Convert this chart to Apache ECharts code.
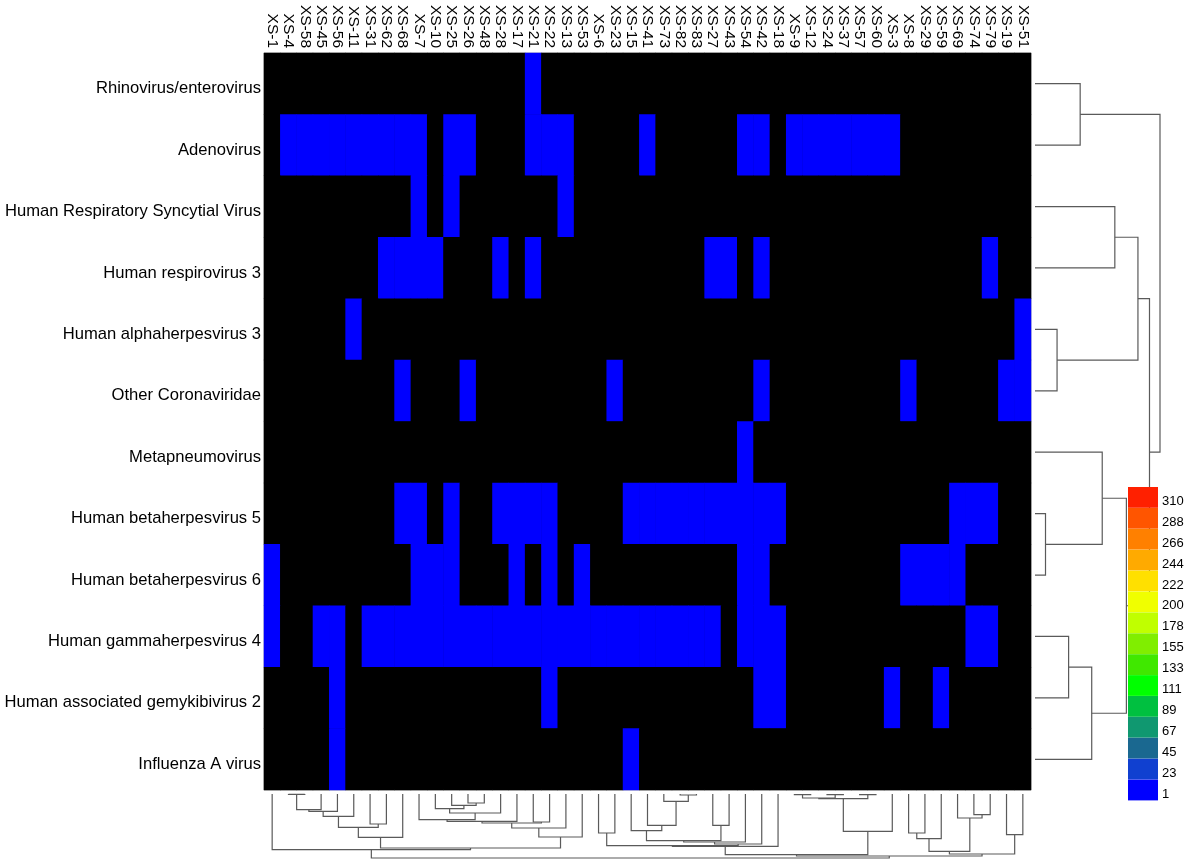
<!DOCTYPE html>
<html>
<head>
<meta charset="utf-8">
<title>Virus heatmap</title>
<script src="https://cdn.jsdelivr.net/npm/echarts@6/dist/echarts.min.js"></script>
<style>
	html, body { margin: 0; padding: 0; background: #fff; }
	#heatmap { width: 1187px; height: 863px; }
</style>
</head>
<body>
<div id="heatmap"></div>
<script>
//样本（列）
var samples = ['XS-1','XS-4','XS-58','XS-45','XS-56','XS-11','XS-31','XS-62','XS-68','XS-7',
	'XS-10','XS-25','XS-26','XS-48','XS-28','XS-17','XS-21','XS-22','XS-13','XS-53',
	'XS-6','XS-23','XS-15','XS-41','XS-73','XS-82','XS-83','XS-27','XS-43','XS-54',
	'XS-42','XS-18','XS-9','XS-12','XS-24','XS-37','XS-57','XS-60','XS-3','XS-8',
	'XS-29','XS-59','XS-69','XS-74','XS-79','XS-19','XS-51'];

//病毒（行）
var viruses = ['Rhinovirus/enterovirus','Adenovirus','Human Respiratory Syncytial Virus',
	'Human respirovirus 3','Human alphaherpesvirus 3','Other Coronaviridae','Metapneumovirus',
	'Human betaherpesvirus 5','Human betaherpesvirus 6','Human gammaherpesvirus 4',
	'Human associated gemykibivirus 2','Influenza A virus'];

//每行的读数（0 = 未检出）
var counts = [
	[0,0,0,0,0,0,0,0,0,0, 0,0,0,0,0,0,1,0,0,0, 0,0,0,0,0,0,0,0,0,0, 0,0,0,0,0,0,0,0,0,0, 0,0,0,0,0,0,0],
	[0,1,1,1,1,1,1,1,1,1, 0,1,1,0,0,0,1,1,1,0, 0,0,0,1,0,0,0,0,0,1, 1,0,1,1,1,1,1,1,1,0, 0,0,0,0,0,0,0],
	[0,0,0,0,0,0,0,0,0,1, 0,1,0,0,0,0,0,0,1,0, 0,0,0,0,0,0,0,0,0,0, 0,0,0,0,0,0,0,0,0,0, 0,0,0,0,0,0,0],
	[0,0,0,0,0,0,0,1,1,1, 1,0,0,0,1,0,1,0,0,0, 0,0,0,0,0,0,0,1,1,0, 1,0,0,0,0,0,0,0,0,0, 0,0,0,0,1,0,0],
	[0,0,0,0,0,1,0,0,0,0, 0,0,0,0,0,0,0,0,0,0, 0,0,0,0,0,0,0,0,0,0, 0,0,0,0,0,0,0,0,0,0, 0,0,0,0,0,0,1],
	[0,0,0,0,0,0,0,0,1,0, 0,0,1,0,0,0,0,0,0,0, 0,1,0,0,0,0,0,0,0,0, 1,0,0,0,0,0,0,0,0,1, 0,0,0,0,0,1,1],
	[0,0,0,0,0,0,0,0,0,0, 0,0,0,0,0,0,0,0,0,0, 0,0,0,0,0,0,0,0,0,1, 0,0,0,0,0,0,0,0,0,0, 0,0,0,0,0,0,0],
	[0,0,0,0,0,0,0,0,1,1, 0,1,0,0,1,1,1,1,0,0, 0,0,1,1,1,1,1,1,1,1, 1,1,0,0,0,0,0,0,0,0, 0,0,1,1,1,0,0],
	[1,0,0,0,0,0,0,0,0,1, 1,1,0,0,0,1,0,1,0,1, 0,0,0,0,0,0,0,0,0,1, 1,0,0,0,0,0,0,0,0,1, 1,1,1,0,0,0,0],
	[1,0,0,1,1,0,1,1,1,1, 1,1,1,1,1,1,1,1,1,1, 1,1,1,1,1,1,1,1,0,1, 1,1,0,0,0,0,0,0,0,0, 0,0,0,1,1,0,0],
	[0,0,0,0,1,0,0,0,0,0, 0,0,0,0,0,0,0,1,0,0, 0,0,0,0,0,0,0,0,0,0, 1,1,0,0,0,0,0,0,1,0, 0,1,0,0,0,0,0],
	[0,0,0,0,1,0,0,0,0,0, 0,0,0,0,0,0,0,0,0,0, 0,0,1,0,0,0,0,0,0,0, 0,0,0,0,0,0,0,0,0,0, 0,0,0,0,0,0,0]
];

//图例分段
var legendLabels = [1, 23, 45, 67, 89, 111, 133, 155, 178, 200, 222, 244, 266, 288, 310];
var legendColors = ['#0000ff','#1040d0','#1a6890','#109870','#00c040','#00ff00','#40e800','#80ee00',
	'#c0ff00','#f0ff00','#ffe000','#ffaa00','#ff8000','#ff5500','#ff2000'];

//行聚类树 [左, 右, 高度]
var rowTree = [[0, 1, 43], [[[2, 3, 76], [4, 5, 21], 98], [[6, [7, 8, 10], 64], [[9, 10, 32], 11, 54], 87], 109], 119];

//列聚类树 [左, 右, 高度]
var colTree = [
	[0,
		[
			[[[[[[1, 2, 0.3], 3, 15.7], 4, 17.3], 5, 22.3], [6, 7, 30], 33.3], 8, 43.3],
			[[[[[9, [[10, [11, [12, 13, 9], 11.3], 14.7], 14, 19], 25.7], 15, 27.3], [16, 17, 28], 29], 18, 34], 19, 43],
			54
		],
		55.7
	],
	[
		[
			[[[20, 21, 39], [[[[22, [23, [24, [25, 26, 1], 7.3], 31.3], 36.7], [27, 28, 31.3], 46.7], 29, 48], 30, 50], 51.7], 31, 52.3],
			[[[[32, 33, 0.7], [34, 35, 0.7], 4], [36, 37, 0.7], 4.7], 38, 37.3],
			60.7
		],
		[[[[39, 40, 39], 41, 44.7], [42, [43, 44, 20.7], 24], 57.3], [45, 46, 40.7], 60],
		62
	],
	64
];

//把树展开成线段 [位置a, 高度a, 高度, 位置b, 高度b]
function flattenTree(node, out) {
	if (typeof node === 'number') return { pos: node, h: 0 };
	var a = flattenTree(node[0], out);
	var b = flattenTree(node[1], out);
	out.push([a.pos, a.h, node[2], b.pos, b.h]);
	return { pos: (a.pos + b.pos) / 2, h: node[2] };
}

function loadHeatmap() {
	var chart = echarts.init(document.getElementById('heatmap'));
	var font = "'Liberation Sans', Arial, sans-serif";

	var cells = [];
	for (var r = 0; r < viruses.length; r++) {
		for (var c = 0; c < samples.length; c++) {
			cells.push([c, r, counts[r][c]]);
		}
	}

	var rowSegs = [], colSegs = [];
	flattenTree(rowTree, rowSegs);
	flattenTree(colTree, colSegs);

	var pieces = legendLabels.map(function (v, i) {
		var p = { gte: v, label: '{low|' + v + '}', color: legendColors[i] };
		if (i < legendLabels.length - 1) p.lt = legendLabels[i + 1];
		return p;
	});

	var lineStyle = { stroke: '#5a5a5a', fill: null, lineWidth: 1.2 };

	option = {
		backgroundColor: '#fff',
		animation: false,
		grid: [
			{ left: 264, top: 53, width: 767, height: 737, show: true, backgroundColor: '#000', borderColor: '#b0b0b0', borderWidth: 1 },
			{ left: 1035, top: 53, width: 125, height: 737 },
			{ left: 264, top: 794, width: 767, height: 64 }
		],
		xAxis: [
			{
				type: 'category', gridIndex: 0, data: samples, position: 'top',
				axisLine: { show: false }, axisTick: { show: false }, splitLine: { show: false },
				axisLabel: { rotate: 90, interval: 0, margin: 5, fontSize: 15.5, color: '#000', fontFamily: font }
			},
			{ type: 'value', gridIndex: 1, min: 0, max: 119, show: false },
			{ type: 'value', gridIndex: 2, min: -0.5, max: samples.length - 0.5, show: false }
		],
		yAxis: [
			{
				type: 'category', gridIndex: 0, data: viruses, inverse: true,
				axisLine: { show: false }, axisTick: { show: false }, splitLine: { show: false },
				axisLabel: {
					interval: 0, margin: 3,
					formatter: function (v) { return '{low|' + v + '}'; },
					rich: { low: { fontSize: 16.6, color: '#000', fontFamily: font, padding: [10, 0, 0, 0] } }
				}
			},
			{ type: 'value', gridIndex: 1, min: -0.5, max: viruses.length - 0.5, inverse: true, show: false },
			{ type: 'value', gridIndex: 2, min: 0, max: 64, inverse: true, show: false }
		],
		visualMap: {
			type: 'piecewise',
			seriesIndex: 0,
			orient: 'vertical',
			align: 'left',
			left: 1128,
			top: 487,
			padding: 0,
			itemWidth: 30,
			itemHeight: 20.8,
			itemGap: 0,
			itemSymbol: 'rect',
			textGap: 4,
			selectedMode: false,
			hoverLink: false,
			pieces: pieces,
			outOfRange: { color: '#000' },
			textStyle: {
				fontSize: 13, color: '#000', fontFamily: font,
				rich: { low: { fontSize: 13, color: '#000', fontFamily: font, padding: [8, 0, 0, 0] } }
			}
		},
		series: [
			{
				type: 'heatmap',
				xAxisIndex: 0,
				yAxisIndex: 0,
				data: cells,
				itemStyle: { borderWidth: 0 },
				emphasis: { disabled: true }
			},
			{
				//行聚类树
				type: 'custom',
				xAxisIndex: 1,
				yAxisIndex: 1,
				clip: false,
				data: rowSegs,
				renderItem: function (params, api) {
					var pts = [
						api.coord([api.value(1), api.value(0)]),
						api.coord([api.value(2), api.value(0)]),
						api.coord([api.value(2), api.value(3)]),
						api.coord([api.value(4), api.value(3)])
					];
					return { type: 'polyline', shape: { points: pts }, style: lineStyle };
				}
			},
			{
				//列聚类树
				type: 'custom',
				xAxisIndex: 2,
				yAxisIndex: 2,
				clip: false,
				data: colSegs,
				renderItem: function (params, api) {
					var pts = [
						api.coord([api.value(0), api.value(1)]),
						api.coord([api.value(0), api.value(2)]),
						api.coord([api.value(3), api.value(2)]),
						api.coord([api.value(3), api.value(4)])
					];
					return { type: 'polyline', shape: { points: pts }, style: lineStyle };
				}
			}
		]
	};
	chart.setOption(option);

	window.addEventListener('resize', function () {
		chart.resize();
	});
}

loadHeatmap();
</script>
</body>
</html>
